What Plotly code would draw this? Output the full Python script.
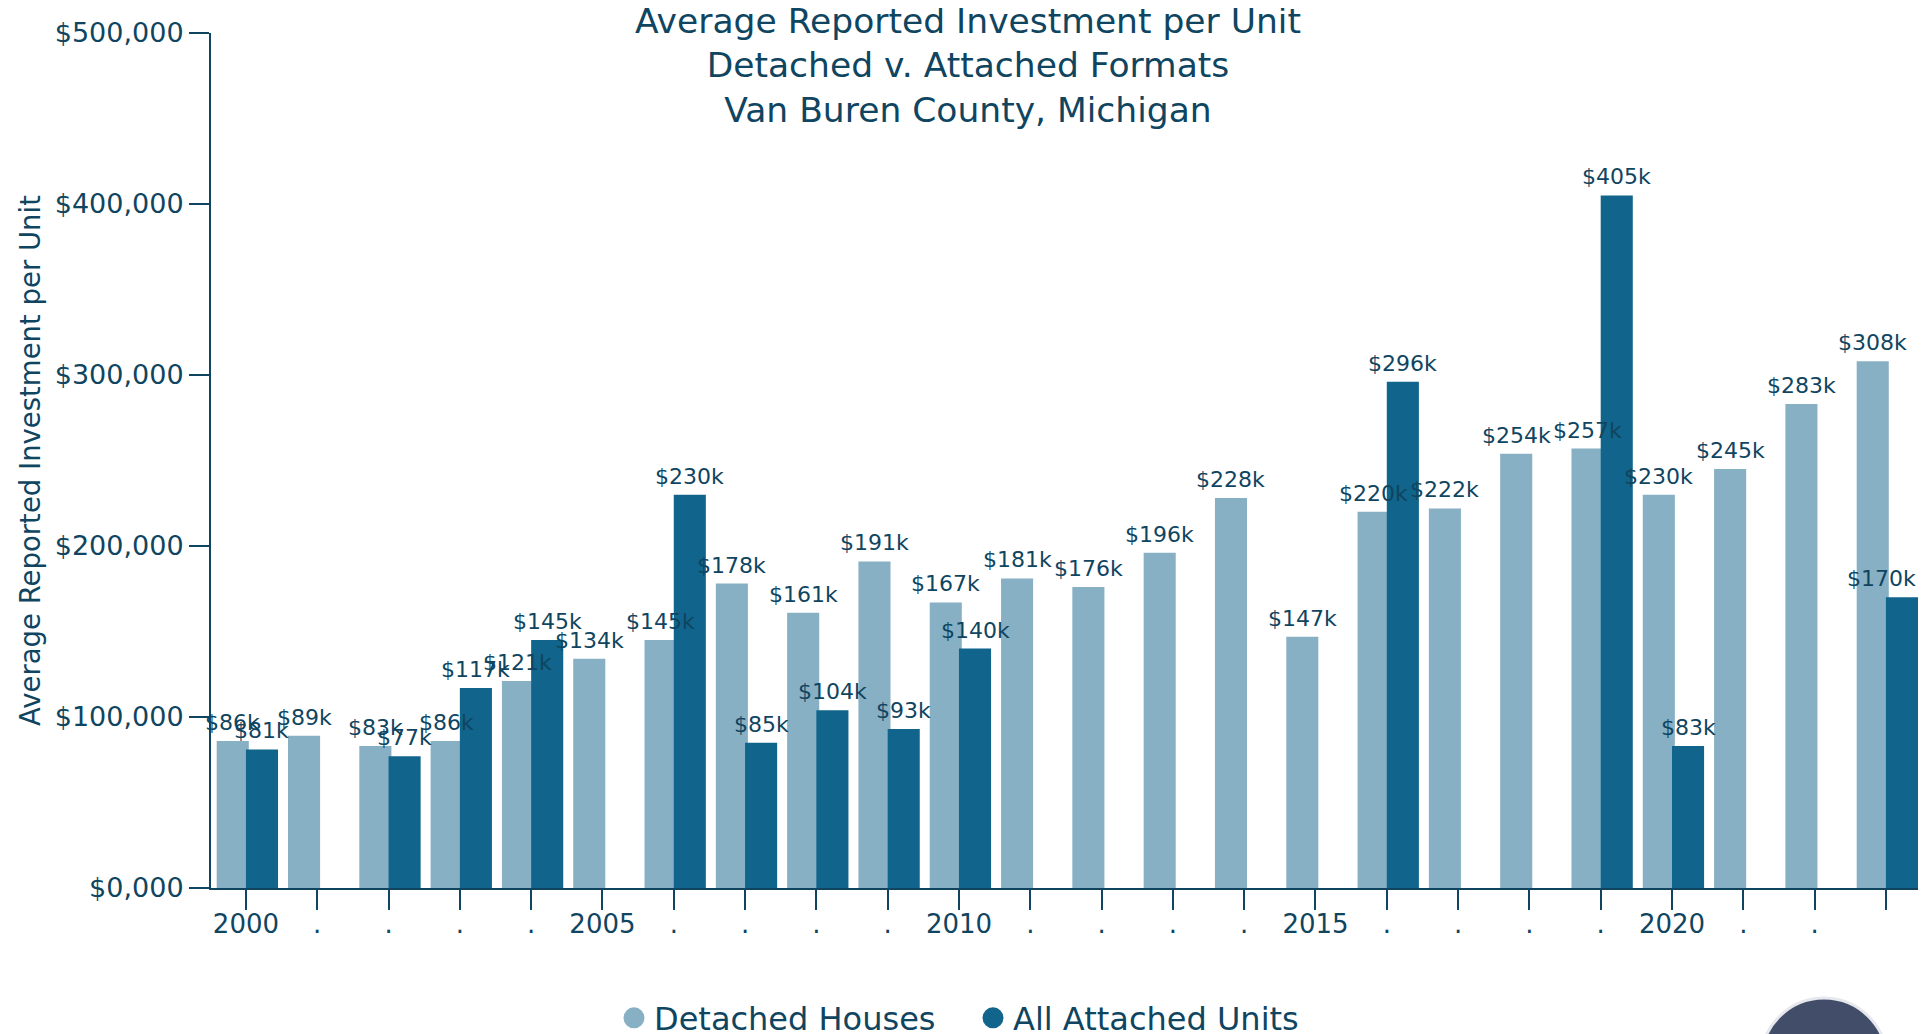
import plotly.graph_objects as go

# ---------------- data ----------------
years = list(range(2000, 2024))
detached_k = [86, 89, 83, 86, 121, 134, 145, 178, 161, 191, 167, 181,
              176, 196, 228, 147, 220, 222, 254, 257, 230, 245, 283, 308]
attached_k = [81, None, 77, 117, 145, None, 230, 85, 104, 93, 140, None,
              None, None, None, None, 296, None, None, 405, 83, None, None, 170]
x_ticktext = ["2000", ".", ".", ".", ".", "2005", ".", ".", ".", ".",
              "2010", ".", ".", ".", ".", "2015", ".", ".", ".", ".",
              "2020", ".", ".", ""]
y_tickvals = [0, 100000, 200000, 300000, 400000, 500000]
y_ticktext = ["$0,000", "$100,000", "$200,000", "$300,000", "$400,000", "$500,000"]
series_names = ["Detached Houses", "All Attached Units"]

# ---------------- style ----------------
FONT = "DejaVu Sans"
TXT = "#0f4560"
LIGHT = "#88b0c4"
DARK = "#11648b"
BAR_W = 0.45
OFF_DET = -0.41
OFF_ATT = 0.0
X_RANGE = [1999.51, 2023.45]
LABEL_SIZE = 22

# page body has an 8px margin, so the figure is drawn 8px smaller
FIG_W, FIG_H = 1920, 1026
M_L, M_R, M_T, M_B = 203, 10, 25, 146
PLOT_W = FIG_W - M_L - M_R
PLOT_H = FIG_H - M_T - M_B

detached = [v * 1000 if v is not None else None for v in detached_k]
attached = [v * 1000 if v is not None else None for v in attached_k]

fig = go.Figure()
fig.add_trace(go.Bar(x=years, y=detached, width=BAR_W, offset=OFF_DET,
                     marker=dict(color=LIGHT, line=dict(width=0)),
                     name=series_names[0], showlegend=False))
fig.add_trace(go.Bar(x=years, y=attached, width=BAR_W, offset=OFF_ATT,
                     marker=dict(color=DARK, line=dict(width=0)),
                     name=series_names[1], showlegend=False))
# legend-only entries with circular symbols
for nm, col in zip(series_names, [LIGHT, DARK]):
    fig.add_trace(go.Scatter(x=[None], y=[None], mode="markers", name=nm,
                             marker=dict(symbol="circle", size=16, color=col,
                                         line=dict(color=col, width=5))))

px_per_year = PLOT_W / (X_RANGE[1] - X_RANGE[0])

annotations = []
for vals_k, off in [(detached_k, OFF_DET), (attached_k, OFF_ATT)]:
    for yr, v in zip(years, vals_k):
        if v is None:
            continue
        txt = f"${v}k"
        xc = yr + off + BAR_W / 2
        half_w = len(txt) * 0.31 * LABEL_SIZE / px_per_year
        ann = dict(x=xc, y=v * 1000, xref="x", yref="y", text=txt,
                   showarrow=False, yanchor="bottom", xanchor="center",
                   yshift=4, font=dict(family=FONT, size=LABEL_SIZE, color=TXT))
        if xc + half_w > X_RANGE[1]:
            ann["x"] = X_RANGE[1]
            ann["xanchor"] = "right"
        annotations.append(ann)

# partially visible globe logo in the bottom-right corner (pixel box in figure coords)
logo_px = dict(x0=1753, x1=1879, y0=990, y1=1116)
shapes = [dict(type="circle", xref="paper", yref="paper",
               x0=(logo_px["x0"] - M_L) / PLOT_W, x1=(logo_px["x1"] - M_L) / PLOT_W,
               y0=(FIG_H - M_B - logo_px["y1"]) / PLOT_H, y1=(FIG_H - M_B - logo_px["y0"]) / PLOT_H,
               fillcolor="#22304f", opacity=0.85, line=dict(color="#e3e5ea", width=3))]

legend_left_px = 606
fig.update_layout(
    width=FIG_W, height=FIG_H,
    margin=dict(l=M_L, r=M_R, t=M_T, b=M_B),
    barmode="overlay",
    plot_bgcolor="white", paper_bgcolor="white",
    font=dict(family=FONT, color=TXT),
    title=dict(text="Average Reported Investment per Unit<br>Detached v. Attached Formats<br>Van Buren County, Michigan",
               x=0.5, xref="container", xanchor="center",
               y=0.976, yref="container", yanchor="top",
               font=dict(family=FONT, size=34.5, color=TXT)),
    xaxis=dict(range=X_RANGE, tickmode="array", tickvals=years, ticktext=x_ticktext,
               ticks="outside", ticklen=20, tickwidth=2, tickcolor=TXT,
               ticklabelstandoff=-8,
               showline=True, linecolor=TXT, linewidth=2, showgrid=False,
               zeroline=False, tickfont=dict(family=FONT, size=26, color=TXT)),
    yaxis=dict(range=[0, 500000], tickmode="array", tickvals=y_tickvals, ticktext=y_ticktext,
               ticks="outside", ticklen=20, tickwidth=2, tickcolor=TXT,
               showline=True, linecolor=TXT, linewidth=2, showgrid=False,
               zeroline=False, tickfont=dict(family=FONT, size=27, color=TXT),
               title=dict(text="Average Reported Investment per Unit", standoff=6,
                          font=dict(family=FONT, size=27.5, color=TXT))),
    legend=dict(orientation="h", x=(legend_left_px - M_L) / PLOT_W, xanchor="left",
                yref="container", y=(FIG_H - 1010) / FIG_H, yanchor="middle",
                entrywidth=314, entrywidthmode="pixels",
                font=dict(family=FONT, size=32, color=TXT),
                bgcolor="rgba(0,0,0,0)"),
    annotations=annotations,
    shapes=shapes,
)

fig.write_html("out.html")
